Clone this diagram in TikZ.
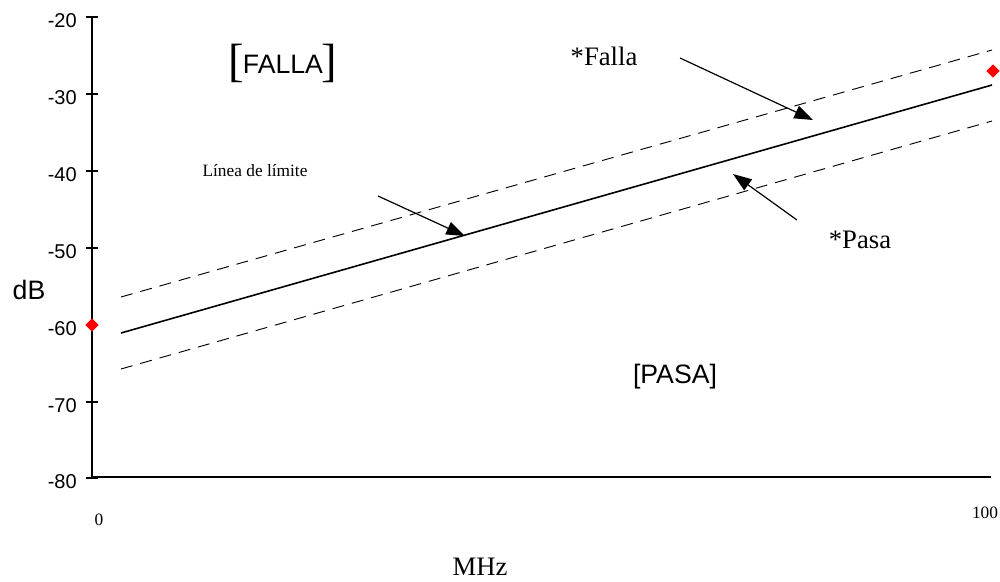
\documentclass[tikz,border=0pt]{standalone}
\usepackage{fontspec}
\setmainfont{Liberation Serif}
\setsansfont{Liberation Sans}
\usetikzlibrary{arrows.meta,shapes.geometric}
\begin{document}
\begin{tikzpicture}[x=0.75pt,y=-0.75pt,
  axisline/.style={line width=1.3pt},
  limitline/.style={line width=1.2pt},
  bandline/.style={line width=0.7pt,dash pattern=on 9pt off 6pt},
  pointer/.style={line width=0.9pt,-{Triangle[length=14pt,width=10pt]}},
  ticklab/.style={font=\sffamily\fontsize{15}{15}\selectfont,anchor=east,inner sep=0},
  marker/.style={diamond,fill=red,inner sep=0,minimum size=10pt},
  bigsans/.style={font=\sffamily\fontsize{20}{20}\selectfont,inner sep=0},
  bigserif/.style={font=\rmfamily\fontsize{20}{20}\selectfont,inner sep=0},
  smallserif/.style={font=\rmfamily\fontsize{13}{13}\selectfont,inner sep=0}]
\useasboundingbox (0,0) rectangle (1000,582);
% axes
\coordinate (ytop) at (92,17);
\coordinate (orig) at (92,477);
\coordinate (xend) at (991,477);
\draw[axisline] (ytop) -- (orig) -- (xend);
% ticks and labels
\foreach \v/\yy [count=\i] in {-20/17,-30/94,-40/171,-50/248,-60/325,-70/402,-80/478}{
  \coordinate (tl\i) at (86,\yy);
  \coordinate (tr\i) at (98,\yy);
  \draw[axisline] (tl\i) -- (tr\i);
  \node[ticklab] (lab\i) at (77,\yy+4) {\v};
}
% limit line and band
\coordinate (L0) at (121,333); \coordinate (L1) at (992,85);
\coordinate (U0) at (121,297); \coordinate (U1) at (992,50);
\coordinate (D0) at (121,369); \coordinate (D1) at (992,121);
\draw[limitline] (L0) -- (L1);
\draw[bandline] (U0) -- (U1);
\draw[bandline] (D0) -- (D1);
% markers
\node[marker] (m0) at (92,325) {};
\node[marker] (m1) at (993,71) {};
% texts
\node[bigsans] (db) at (29,290) {dB};
\node[anchor=base,inner sep=0] (falla) at (283,73)
  {\raisebox{-2.5pt}{\rmfamily\fontsize{35}{35}\selectfont[}\hspace{-1pt}{\sffamily\fontsize{20}{20}\selectfont FALLA}\hspace{-1pt}\raisebox{-2.5pt}{\rmfamily\fontsize{35}{35}\selectfont]}};
\node[bigsans,anchor=base] (pasa) at (675,383) {[PASA]};
\node[smallserif,anchor=base] (linea) at (255,176) {Línea de límite};
\node[bigserif,anchor=base] (sfalla) at (604,65) {*Falla};
\node[bigserif,anchor=base] (spasa) at (860,248) {*Pasa};
\node[smallserif] (x0) at (99,520) {0};
\node[smallserif] (x100) at (985,513) {100};
\node[font=\rmfamily\fontsize{20}{20}\selectfont,inner sep=0,anchor=base] (mhz) at (480,575) {MHz};
% pointers
\coordinate (a1s) at (378,196); \coordinate (a1e) at (465,236);
\coordinate (a2s) at (680,58);  \coordinate (a2e) at (813,120);
\coordinate (a3s) at (797,220); \coordinate (a3e) at (733,174);
\draw[pointer] (a1s) -- (a1e);
\draw[pointer] (a2s) -- (a2e);
\draw[pointer] (a3s) -- (a3e);
\end{tikzpicture}
\end{document}
